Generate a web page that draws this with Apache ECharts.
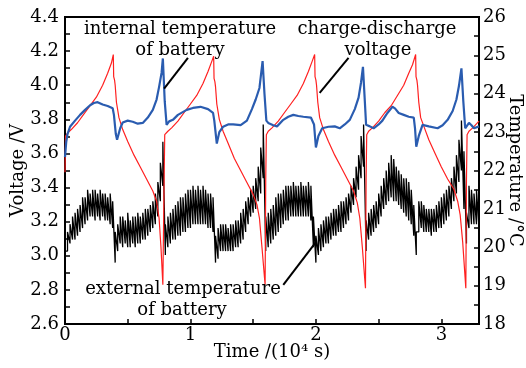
<!DOCTYPE html>
<html><head><meta charset="utf-8">
<script src="https://cdn.jsdelivr.net/npm/echarts@6/dist/echarts.min.js"></script>
<style>html,body{margin:0;padding:0;background:#fff}#c{width:526px;height:368px}</style>
</head><body><div id="c"></div>
<script>
const FONT = "'DejaVu Serif', serif";
const timeTicks = [0, 1, 2, 3];
const timeRange = [0, 3.3];
const voltTicks = [2.6, 2.8, 3.0, 3.2, 3.4, 3.6, 3.8, 4.0, 4.2, 4.4];
const tempTicks = [18, 19, 20, 21, 22, 23, 24, 25, 26];

// charge-discharge voltage (V) vs time (10^4 s)
const chargeVoltage = [
[0.000,3.49],[0.004,3.70],[0.02,3.72],[0.05,3.74],[0.10,3.78],[0.15,3.83],[0.20,3.88],[0.25,3.93],[0.30,4.00],[0.34,4.07],[0.37,4.13],[0.385,4.18],[0.388,4.05],[0.395,4.03],[0.40,4.00],[0.41,3.90],[0.43,3.81],[0.46,3.74],[0.50,3.67],[0.55,3.59],[0.60,3.52],[0.65,3.45],[0.70,3.38],[0.73,3.32],[0.75,3.22],[0.765,3.05],[0.78,2.83],[0.79,3.44],[0.795,3.71],
[0.82,3.73],[0.85,3.75],[0.90,3.79],[0.95,3.84],[1.00,3.89],[1.05,3.94],[1.10,4.01],[1.14,4.08],[1.17,4.14],[1.185,4.17],[1.188,4.04],[1.195,4.02],[1.20,3.99],[1.21,3.89],[1.23,3.80],[1.26,3.73],[1.30,3.66],[1.35,3.57],[1.40,3.50],[1.45,3.43],[1.50,3.36],[1.53,3.30],[1.55,3.22],[1.57,3.05],[1.595,2.83],[1.60,3.44],[1.605,3.71],
[1.62,3.73],[1.65,3.75],[1.70,3.79],[1.75,3.84],[1.80,3.89],[1.85,3.94],[1.90,4.01],[1.94,4.08],[1.97,4.14],[1.99,4.18],[1.993,4.05],[2.00,4.03],[2.005,4.00],[2.015,3.90],[2.03,3.81],[2.06,3.74],[2.10,3.67],[2.15,3.59],[2.20,3.52],[2.25,3.45],[2.30,3.38],[2.33,3.31],[2.35,3.22],[2.37,3.05],[2.395,2.81],[2.40,3.44],[2.405,3.71],
[2.42,3.73],[2.45,3.75],[2.50,3.79],[2.55,3.84],[2.60,3.88],[2.65,3.94],[2.70,4.00],[2.74,4.07],[2.77,4.12],[2.795,4.18],[2.798,4.05],[2.805,4.03],[2.81,4.00],[2.82,3.90],[2.835,3.81],[2.865,3.75],[2.90,3.68],[2.95,3.60],[3.00,3.52],[3.05,3.45],[3.10,3.39],[3.13,3.32],[3.15,3.24],[3.17,3.08],[3.195,2.81],[3.20,3.44],[3.205,3.71],[3.22,3.73],[3.25,3.75],[3.30,3.79]
];

// internal temperature of battery (°C)
const internalTemp = [
[0.00,22.35],[0.01,22.75],[0.02,22.95],[0.04,23.14],[0.08,23.30],[0.12,23.45],[0.16,23.58],[0.20,23.70],[0.23,23.76],[0.26,23.78],[0.30,23.72],[0.34,23.68],[0.38,23.62],[0.39,23.45],[0.405,22.95],[0.415,22.80],[0.44,23.10],[0.46,23.25],[0.50,23.30],[0.54,23.27],[0.58,23.22],[0.62,23.24],[0.66,23.38],[0.70,23.58],[0.73,23.85],[0.75,24.18],[0.77,24.55],[0.78,24.92],[0.795,23.80],[0.81,23.19],[0.83,23.28],[0.86,23.32],[0.90,23.45],[0.97,23.58],[1.02,23.63],[1.08,23.66],[1.14,23.60],[1.18,23.50],[1.19,23.30],[1.21,22.70],[1.23,23.00],[1.26,23.14],[1.30,23.20],[1.34,23.20],[1.40,23.18],[1.45,23.30],[1.49,23.60],[1.52,23.85],[1.55,24.15],[1.575,24.85],[1.59,24.00],[1.605,23.30],[1.62,23.24],[1.66,23.18],[1.69,23.15],[1.74,23.32],[1.78,23.40],[1.82,23.45],[1.86,23.42],[1.90,23.40],[1.96,23.38],[1.985,23.20],[2.00,22.60],[2.02,22.90],[2.05,23.10],[2.10,23.14],[2.15,23.15],[2.19,23.10],[2.23,23.20],[2.27,23.32],[2.31,23.60],[2.34,23.90],[2.36,24.30],[2.375,24.70],[2.39,23.80],[2.40,23.19],[2.43,23.15],[2.46,23.10],[2.50,23.20],[2.53,23.30],[2.57,23.50],[2.61,23.66],[2.63,23.62],[2.66,23.50],[2.70,23.45],[2.74,23.40],[2.78,23.38],[2.79,23.10],[2.80,22.62],[2.82,22.90],[2.85,23.19],[2.90,23.15],[2.97,23.10],[3.01,23.18],[3.05,23.32],[3.09,23.55],[3.12,23.85],[3.14,24.20],[3.16,24.66],[3.175,23.80],[3.19,23.10],[3.22,23.24],[3.24,23.18],[3.26,23.10],[3.30,23.15]
];

// external temperature of battery (°C): [time, low edge of noise, high edge of noise]
const externalTemp = [
[0.00,19.3,19.9],[0.02,19.9,20.4],[0.04,20.1,20.6],[0.06,20.2,20.8],[0.08,20.2,20.9],[0.10,20.3,21.0],[0.12,20.4,21.1],[0.14,20.5,21.3],[0.16,20.6,21.3],[0.18,20.7,21.5],[0.20,20.8,21.4],[0.22,20.8,21.5],[0.24,20.7,21.5],[0.26,20.8,21.4],[0.28,20.7,21.5],[0.30,20.8,21.4],[0.32,20.7,21.4],[0.34,20.7,21.3],[0.36,20.6,21.4],[0.38,20.5,21.2],[0.40,19.6,20.4],[0.42,19.9,20.6],[0.44,20.1,20.8],[0.46,20.0,20.8],[0.48,20.1,20.7],[0.50,20.0,20.9],[0.52,20.0,20.7],[0.54,20.1,20.8],[0.56,20.0,20.8],[0.58,20.1,20.9],[0.60,20.1,20.8],[0.62,20.2,20.9],[0.64,20.2,21.0],[0.66,20.3,21.0],[0.68,20.4,21.1],[0.70,20.5,21.2],[0.72,20.6,21.4],[0.74,20.8,21.7],[0.76,21.2,22.2],[0.78,21.6,22.75],[0.80,19.8,20.6],
[0.82,20.0,20.8],[0.84,20.1,20.9],[0.86,20.2,21.0],[0.88,20.2,21.1],[0.90,20.3,21.2],[0.92,20.3,21.3],[0.94,20.4,21.3],[0.96,20.4,21.4],[0.98,20.5,21.5],[1.00,20.5,21.5],[1.02,20.6,21.6],[1.04,20.6,21.5],[1.06,20.6,21.6],[1.08,20.6,21.5],[1.10,20.6,21.6],[1.12,20.6,21.5],[1.14,20.5,21.4],[1.16,20.5,21.4],[1.18,20.4,21.3],[1.20,19.6,20.3],[1.22,19.7,20.5],[1.24,19.9,20.6],[1.26,19.9,20.6],[1.28,19.9,20.6],[1.30,19.9,20.5],[1.32,19.9,20.6],[1.34,19.9,20.6],[1.36,20.0,20.7],[1.38,20.0,20.7],[1.40,20.1,20.9],[1.42,20.2,21.0],[1.44,20.4,21.2],[1.46,20.6,21.3],[1.48,20.8,21.5],[1.50,20.9,21.6],[1.52,21.0,21.8],[1.54,21.2,22.1],[1.56,21.4,22.6],[1.58,21.8,23.2],[1.60,19.9,20.8],
[1.62,20.0,20.9],[1.64,20.1,21.0],[1.66,20.2,21.1],[1.68,20.3,21.3],[1.70,20.4,21.4],[1.72,20.5,21.4],[1.74,20.6,21.5],[1.76,20.7,21.6],[1.78,20.7,21.6],[1.80,20.8,21.6],[1.82,20.8,21.7],[1.84,20.8,21.6],[1.86,20.8,21.6],[1.88,20.8,21.7],[1.90,20.8,21.6],[1.92,20.8,21.6],[1.94,20.8,21.7],[1.96,20.7,21.6],[1.98,20.0,20.8],[2.00,19.6,20.3],[2.02,19.8,20.5],[2.04,19.9,20.6],[2.06,20.0,20.7],[2.08,20.1,20.8],[2.10,20.1,20.8],[2.12,20.2,20.9],[2.14,20.3,21.0],[2.16,20.3,21.0],[2.18,20.4,21.1],[2.20,20.4,21.2],[2.22,20.5,21.2],[2.24,20.6,21.3],[2.26,20.7,21.4],[2.28,20.9,21.6],[2.30,21.1,21.8],[2.32,21.3,22.1],[2.34,21.5,22.4],[2.36,21.8,22.9],[2.38,22.1,23.2],[2.40,19.9,20.7],
[2.42,20.2,20.9],[2.44,20.3,21.0],[2.46,20.4,21.1],[2.48,20.5,21.2],[2.50,20.6,21.4],[2.52,20.8,21.6],[2.54,21.0,21.8],[2.56,21.1,22.0],[2.58,21.2,22.2],[2.60,21.3,22.4],[2.62,21.2,22.3],[2.64,21.2,22.1],[2.66,21.1,22.0],[2.68,21.0,21.9],[2.70,20.9,21.8],[2.72,20.8,21.8],[2.74,20.7,21.7],[2.76,20.6,21.5],[2.78,20.3,21.1],[2.80,19.8,20.4],[2.82,20.4,21.2],[2.84,20.5,21.2],[2.86,20.4,21.1],[2.88,20.4,21.0],[2.90,20.4,21.0],[2.92,20.3,21.0],[2.94,20.4,21.0],[2.96,20.4,21.1],[2.98,20.5,21.2],[3.00,20.5,21.3],[3.02,20.6,21.4],[3.04,20.7,21.5],[3.06,20.8,21.6],[3.08,21.0,21.8],[3.10,21.2,22.1],[3.12,21.4,22.4],[3.14,21.7,22.8],[3.16,22.0,23.3],[3.18,21.0,22.5],[3.20,20.1,20.9],[3.22,20.5,21.6],[3.24,20.6,21.5],[3.26,20.6,21.4],[3.28,20.6,21.5],[3.30,20.5,21.4]
];

// annotation pointers in (time, voltage) coordinates
const pointerLines = [
  [[0.98, 4.16], [0.79, 3.98]],
  [[2.26, 4.16], [2.03, 3.955]],
  [[1.74, 2.83], [2.00, 3.08]]
];
const annotations = [
  {text: 'internal temperature', x: 180, y: 29},
  {text: 'of battery', x: 180, y: 50},
  {text: 'charge-discharge', x: 377, y: 29},
  {text: 'voltage', x: 378, y: 50},
  {text: 'external temperature', x: 183, y: 289},
  {text: 'of battery', x: 182, y: 310}
];

// zigzag between the read noise edges, plus a band filling between them
const extLine = [];
externalTemp.forEach(r => { extLine.push([r[0], r[1]]); extLine.push([r[0], r[2]]); });
const extBase = externalTemp.map(r => [r[0], r[1]]);
const extSpan = externalTemp.map(r => [r[0], +(r[2] - r[1]).toFixed(3)]);

const chart = echarts.init(document.getElementById('c'), null, {renderer: 'canvas'});
const axisCommon = {
  axisLine: {show: true, onZero: false, lineStyle: {color: '#000', width: 2}},
  axisTick: {show: true, inside: true, length: 5, lineStyle: {color: '#000', width: 1.5}},
  minorTick: {show: true, splitNumber: 2, length: 5, lineStyle: {color: '#000', width: 1.5}},
  splitLine: {show: false},
  axisLabel: {color: '#000', fontSize: 18, fontFamily: FONT},
  nameMoveOverlap: false
};
chart.setOption({
  animation: false,
  backgroundColor: '#fff',
  grid: {left: 65, right: 47, top: 17, bottom: 44, show: true, borderColor: '#000', borderWidth: 2,
         containLabel: false, outerBoundsMode: 'none'},
  xAxis: Object.assign({}, axisCommon, {
    type: 'value', min: timeRange[0], max: timeRange[1], interval: timeTicks[1] - timeTicks[0],
    axisLabel: Object.assign({}, axisCommon.axisLabel, {margin: 2,
      formatter: v => timeTicks.indexOf(Math.round(v * 1000) / 1000) >= 0 ? String(Math.round(v)) : ''}),
    name: 'Time /(10\u2074 s)', nameLocation: 'middle', nameGap: 19,
    nameTextStyle: {color: '#000', fontSize: 18, fontFamily: FONT}
  }),
  yAxis: [
    Object.assign({}, axisCommon, {
      type: 'value', position: 'left', min: voltTicks[0], max: voltTicks[voltTicks.length - 1], interval: 0.2,
      axisLabel: Object.assign({}, axisCommon.axisLabel, {margin: 6, formatter: v => v.toFixed(1)}),
      name: 'Voltage /V', nameLocation: 'middle', nameRotate: 90, nameGap: 38,
      nameTextStyle: {color: '#000', fontSize: 18, fontFamily: FONT}
    }),
    Object.assign({}, axisCommon, {
      type: 'value', position: 'right', min: tempTicks[0], max: tempTicks[tempTicks.length - 1], interval: 1,
      axisLabel: Object.assign({}, axisCommon.axisLabel, {margin: 4, formatter: v => String(v)}),
      name: 'Temperature /\u00b0C', nameLocation: 'middle', nameRotate: -90, nameGap: 27,
      nameTextStyle: {color: '#000', fontSize: 18, fontFamily: FONT}
    })
  ],
  series: [
    {name: 'ext-base', type: 'line', yAxisIndex: 1, data: extBase, stack: 'ext', showSymbol: false, symbol: 'none',
     lineStyle: {opacity: 0}, silent: true, z: 1},
    {name: 'ext-band', type: 'line', yAxisIndex: 1, data: extSpan, stack: 'ext', showSymbol: false, symbol: 'none',
     lineStyle: {opacity: 0}, areaStyle: {color: '#000', opacity: 0.8}, silent: true, z: 1},
    {name: 'external temperature', type: 'line', yAxisIndex: 1, data: extLine, showSymbol: false, symbol: 'none',
     lineStyle: {color: '#000', width: 1.3}, z: 2},
    {name: 'charge-discharge voltage', type: 'line', yAxisIndex: 0, data: chargeVoltage, showSymbol: false, symbol: 'none',
     lineStyle: {color: '#ff2020', width: 1.2}, z: 3},
    {name: 'internal temperature', type: 'line', yAxisIndex: 1, data: internalTemp, showSymbol: false, symbol: 'none',
     lineStyle: {color: '#2a5cb0', width: 2.2}, z: 4}
  ]
});

const graphics = [];
annotations.forEach(a => graphics.push({
  type: 'text', x: a.x, y: a.y, z: 10,
  style: {text: a.text, fill: '#000', font: '18px ' + FONT, textAlign: 'center', textVerticalAlign: 'middle'}
}));
pointerLines.forEach(p => {
  const a = chart.convertToPixel({xAxisIndex: 0, yAxisIndex: 0}, p[0]);
  const b = chart.convertToPixel({xAxisIndex: 0, yAxisIndex: 0}, p[1]);
  graphics.push({type: 'line', z: 10, shape: {x1: a[0], y1: a[1], x2: b[0], y2: b[1]}, style: {stroke: '#000', lineWidth: 2}});
});
chart.setOption({graphic: graphics});
</script>
</body></html>
